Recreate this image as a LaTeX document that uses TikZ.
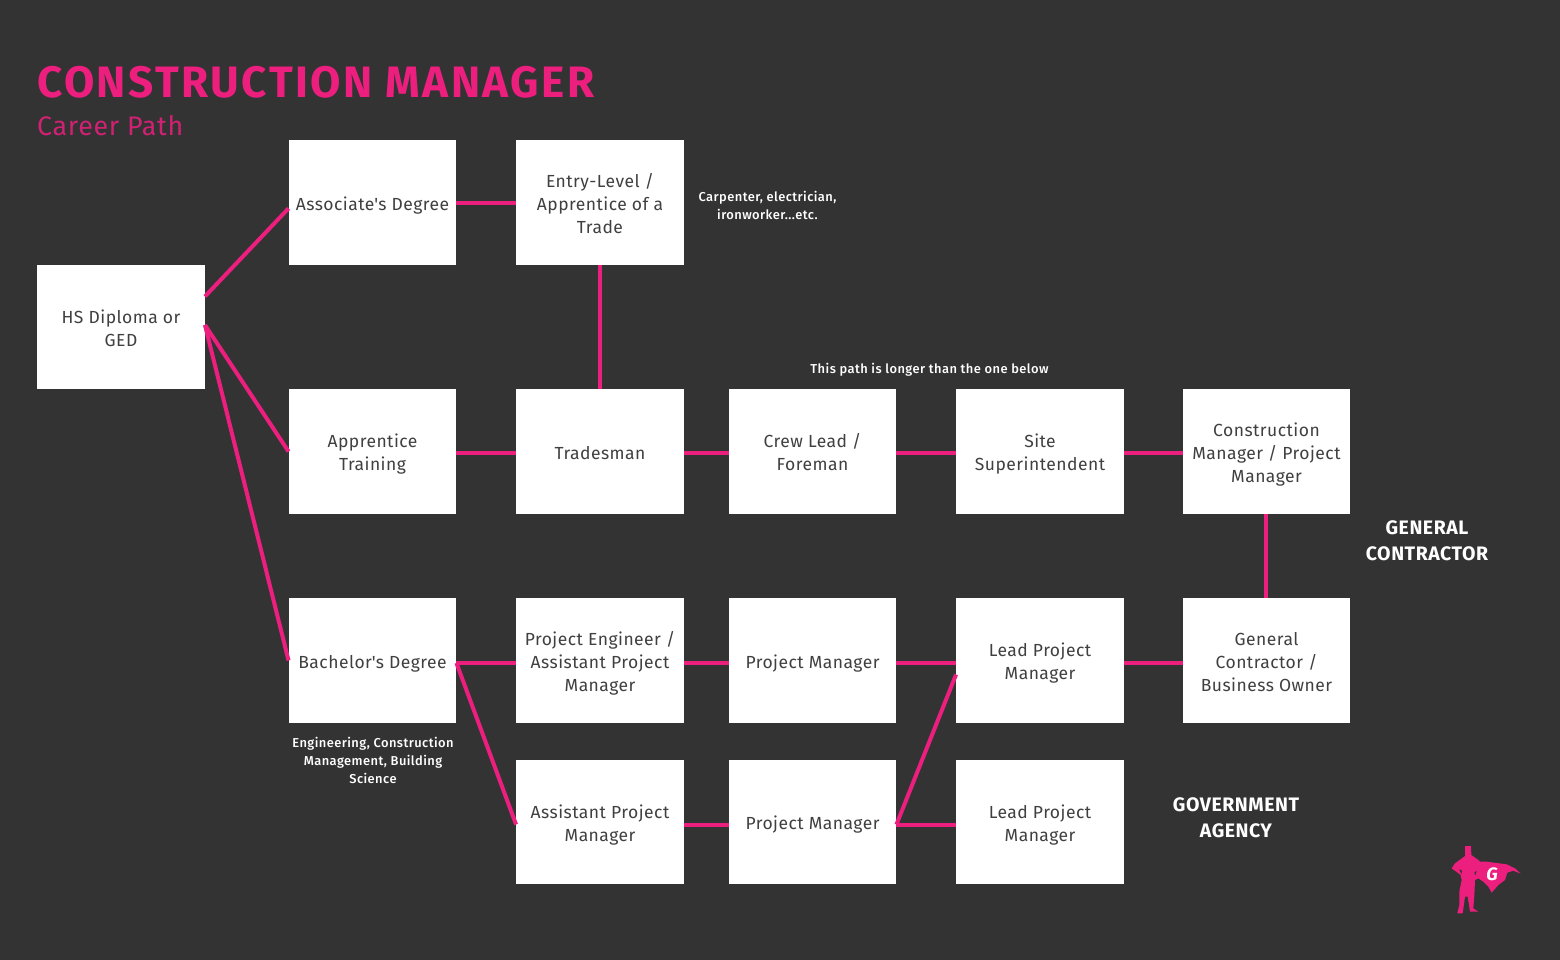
\documentclass[tikz,border=0pt]{standalone}
\usepackage{fontspec}
\setmainfont[LetterSpace=2.7]{Fira Sans}
\newfontfamily\titlefont[LetterSpace=5.6]{Fira Sans}
\newfontfamily\notefont[LetterSpace=3.4]{Fira Sans Medium}
\definecolor{bgdark}{HTML}{333333}
\definecolor{hotpink}{HTML}{EC1E7E}
\definecolor{boxtext}{HTML}{404040}
\newcommand{\boxlines}[1]{\vbox{\kern6.5pt\hbox{\begin{tabular}{@{}c@{}}#1\end{tabular}}}}
\tikzset{
  stepbox/.style = {draw=none, fill=white, text=boxtext, minimum width=167.5pt, minimum height=125pt, inner sep=0pt, font=\fontsize{17.5}{23}\selectfont},
  note/.style = {text=white, inner sep=0pt, align=center, font=\notefont\fontsize{12.9}{18}\selectfont},
  tag/.style = {text=white, inner sep=0pt, align=center, font=\fontsize{19.5}{26}\selectfont\bfseries},
  link/.style = {draw=hotpink, line width=4pt}
}
\begin{document}
\begin{tikzpicture}[x=1pt, y=-1pt]
\fill[bgdark] (0,0) rectangle (1560,960);
\useasboundingbox (0,0) rectangle (1560,960);
% title
\node (title) [anchor=base west, inner sep=0pt, text=hotpink, font=\titlefont\fontsize{44}{44}\selectfont\bfseries] at (37,98) {CONSTRUCTION MANAGER};
\node (subtitle) [anchor=base west, inner sep=0pt, text=hotpink!85!bgdark, font=\fontsize{26.8}{27}\selectfont\fontseries{l}\selectfont] at (37,136) {Career Path};
% boxes
\begin{scope}[every node/.style = {stepbox}]
\node (hs) [minimum height=124pt] at (121,327) {\boxlines{HS Diploma or\\GED}};
\node (assoc) at (372.5,202.5) {\boxlines{Associate\textquotesingle s Degree}};
\node (entry) at (600,202.5) {\boxlines{Entry-Level /\\Apprentice of a\\Trade}};
\node (appr) at (372.5,451.5) {\boxlines{Apprentice\\Training}};
\node (trades) at (600,451.5) {\boxlines{Tradesman}};
\node (crew) at (812.5,451.5) {\boxlines{Crew Lead /\\Foreman}};
\node (site) at (1040,451.5) {\boxlines{Site\\Superintendent}};
\node (cm) at (1266.5,451.5) {\boxlines{Construction\\Manager / Project\\Manager}};
\node (bach) at (372.5,660.5) {\boxlines{Bachelor\textquotesingle s Degree}};
\node (pe) at (600,660.5) {\boxlines{Project Engineer /\\Assistant Project\\Manager}};
\node (pm) at (812.5,660.5) {\boxlines{Project Manager}};
\node (lead) at (1040,660.5) {\boxlines{Lead Project\\Manager}};
\node (gc) at (1266.5,660.5) {\boxlines{General\\Contractor /\\Business Owner}};
\node (apm) [minimum height=124pt] at (600,822) {\boxlines{Assistant Project\\Manager}};
\node (pmb) [minimum height=124pt] at (812.5,822) {\boxlines{Project Manager}};
\node (leadb) [minimum height=124pt] at (1040,822) {\boxlines{Lead Project\\Manager}};
\end{scope}
% connectors
\begin{scope}[every path/.style = {link}]
\draw (hs.20) -- (assoc.184);
\draw ([yshift=2pt]hs.east) -- (appr.west);
\draw ([yshift=2pt]hs.east) -- (bach.west);
\draw ([yshift=-1pt]assoc.east) -- ([yshift=-1pt]entry.west);
\draw (entry.south) -- (trades.north);
\draw ([yshift=-1pt]appr.east) -- ([yshift=-1pt]trades.west);
\draw ([yshift=-1pt]trades.east) -- ([yshift=-1pt]crew.west);
\draw ([yshift=-1pt]crew.east) -- ([yshift=-1pt]site.west);
\draw ([yshift=-1pt]site.east) -- ([yshift=-1pt]cm.west);
\draw ([xshift=-0.5pt]cm.south) -- ([xshift=-0.5pt]gc.north);
\draw ([yshift=-2.5pt]bach.east) -- ([yshift=-2.5pt]pe.west);
\draw ([yshift=-2.5pt]pe.east) -- ([yshift=-2.5pt]pm.west);
\draw ([yshift=-2.5pt]pm.east) -- ([yshift=-2.5pt]lead.west);
\draw ([yshift=-2.5pt]lead.east) -- ([yshift=-2.5pt]gc.west);
\draw ([yshift=-2.5pt]bach.east) -- ([yshift=-2.5pt]apm.west);
\draw ([yshift=-2.5pt]apm.east) -- ([yshift=-2.5pt]pmb.west);
\draw ([yshift=-2.5pt]pmb.east) -- ([yshift=-2.5pt]leadb.west);
\draw ([yshift=-2.5pt]pmb.east) -- ([yshift=-14pt]lead.west);
\end{scope}
% notes
\node (trade note) [note] at (767.5,205.5) {Carpenter, electrician,\\ironworker...etc.};
\node (path note) [note] at (929.5,370) {This path is longer than the one below};
\node (degree note) [note] at (373,760) {Engineering, Construction\\Management, Building\\Science};
\node (gen tag) [tag] at (1427,540.5) {GENERAL\\CONTRACTOR};
\node (gov tag) [tag] at (1236,818) {GOVERNMENT\\AGENCY};
% logo
\begin{scope}[shift={(1420,830)}, scale=1/3]
\fill[hotpink] (135,48) -- (153,48) -- (154,75) -- (175,90) -- (180,95) -- (200,95) -- (260,103) -- (285,115) -- (302,131) -- (280,122) -- (262,128) -- (255,150) -- (235,165) -- (215,188) -- (205,170) -- (190,155) -- (175,145) -- (165,150) -- (163,195) -- (160,235) -- (175,245) -- (150,245) -- (143,200) -- (135,200) -- (128,250) -- (112,250) -- (118,225) -- (118,185) -- (125,150) -- (122,135) -- (95,115) -- (105,100) -- (135,78) -- cycle;
\fill[bgdark] (118,118) -- (126,122) -- (124,132) -- cycle;
\fill[bgdark] (170,122) -- (163,128) -- (166,136) -- cycle;
\end{scope}
\node (logo g) [inner sep=0pt, text=white, font=\fontsize{18}{18}\selectfont\bfseries\itshape] at (1492,874) {G};
\end{tikzpicture}
\end{document}
